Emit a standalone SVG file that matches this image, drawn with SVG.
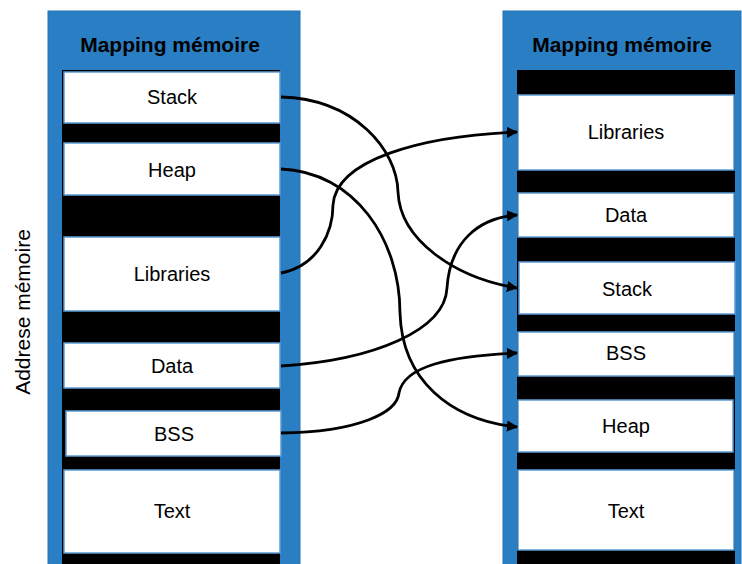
<svg xmlns="http://www.w3.org/2000/svg" width="742" height="564" viewBox="0 0 742 564">
  <defs>
    <marker id="arrow" viewBox="0 0 10 10" refX="9" refY="5" markerWidth="4" markerHeight="4" orient="auto" markerUnits="strokeWidth">
      <path d="M0,0 L10,5 L0,10 z" fill="#000"/>
    </marker>
    <style>
      .panel { fill: #2a7fc4; stroke: #2674b4; stroke-width: 1; }
      .column { fill: #000; }
      .seg { fill: #fff; stroke: #5b9bd5; stroke-width: 1.5; }
      .title { font-family: "Liberation Sans", Arial, sans-serif; font-weight: bold; font-size: 21px; fill: #000; text-anchor: middle; }
      .label { font-family: "Liberation Sans", Arial, sans-serif; font-size: 20px; fill: #000; text-anchor: middle; }
      .axis { font-family: "Liberation Sans", Arial, sans-serif; font-size: 21px; fill: #000; text-anchor: middle; }
      .link { fill: none; stroke: #000; stroke-width: 2.8; marker-end: url(#arrow); }
    </style>
  </defs>

  <rect width="742" height="564" fill="#fff"/>

  <!-- axis label -->
  <text class="axis" transform="translate(30,312) rotate(-90)">Addrese mémoire</text>

  <!-- left memory map -->
  <g id="left-map">
    <rect class="panel" x="48" y="11" width="252" height="560"/>
    <text class="title" x="170" y="52">Mapping mémoire</text>
    <rect class="column" x="62" y="70" width="218" height="500"/>
  </g>
  <g id="left-stack">
    <rect class="seg" x="64" y="72" width="216" height="51"/>
    <text class="label" x="172" y="104">Stack</text>
  </g>
  <g id="left-heap">
    <rect class="seg" x="64" y="143" width="216" height="52"/>
    <text class="label" x="172" y="177">Heap</text>
  </g>
  <g id="left-libraries">
    <rect class="seg" x="64" y="237" width="216" height="74"/>
    <text class="label" x="172" y="281">Libraries</text>
  </g>
  <g id="left-data">
    <rect class="seg" x="64" y="343" width="216" height="45"/>
    <text class="label" x="172" y="373">Data</text>
  </g>
  <g id="left-bss">
    <rect class="seg" x="66" y="411" width="215" height="45"/>
    <text class="label" x="174" y="441">BSS</text>
  </g>
  <g id="left-text">
    <rect class="seg" x="64" y="470" width="216" height="83"/>
    <text class="label" x="172" y="518">Text</text>
  </g>

  <!-- right memory map -->
  <g id="right-map">
    <rect class="panel" x="503" y="11" width="238" height="560"/>
    <text class="title" x="622" y="52">Mapping mémoire</text>
    <rect class="column" x="517" y="70" width="218" height="500"/>
  </g>
  <g id="right-libraries">
    <rect class="seg" x="518" y="95" width="216" height="75"/>
    <text class="label" x="626" y="139">Libraries</text>
  </g>
  <g id="right-data">
    <rect class="seg" x="518" y="193" width="216" height="44"/>
    <text class="label" x="626" y="222">Data</text>
  </g>
  <g id="right-stack">
    <rect class="seg" x="519" y="262" width="216" height="52"/>
    <text class="label" x="627" y="296">Stack</text>
  </g>
  <g id="right-bss">
    <rect class="seg" x="518" y="332" width="216" height="44"/>
    <text class="label" x="626" y="360">BSS</text>
  </g>
  <g id="right-heap">
    <rect class="seg" x="518" y="400" width="215" height="52"/>
    <text class="label" x="626" y="433">Heap</text>
  </g>
  <g id="right-text">
    <rect class="seg" x="518" y="470" width="216" height="80"/>
    <text class="label" x="626" y="518">Text</text>
  </g>

  <!-- connectors -->
  <g id="connectors">
    <path class="link" d="M281,97 C355,99 397,150 398,192 C400,240 455,278 517,288"/>
    <path class="link" d="M281,169 C355,172 400,240 400,313 C402,380 450,420 517,427"/>
    <path class="link" d="M281,273 C318,266 333,232 333,205 C336,160 420,136 517,132"/>
    <path class="link" d="M281,366 C375,360 445,330 447,288 C450,242 478,218 517,215"/>
    <path class="link" d="M281,433 C360,432 397,412 399,393 C404,366 450,356 517,353"/>
  </g>
</svg>
